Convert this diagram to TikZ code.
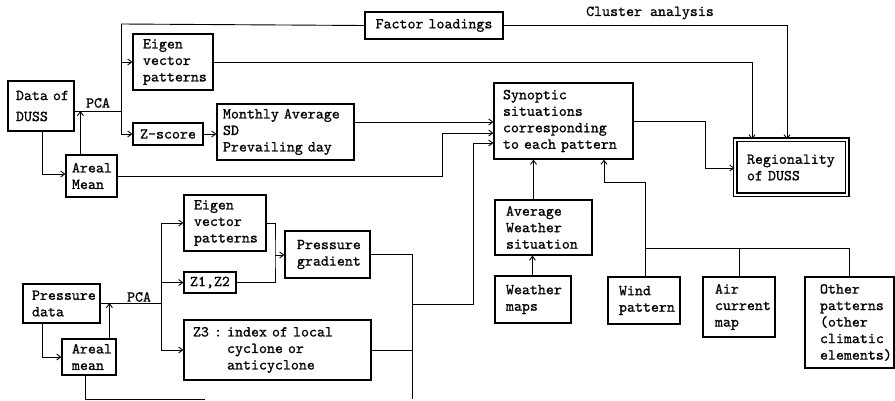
\documentclass[tikz,border=0pt]{standalone}
\usepackage{fontspec}
\newfontfamily\tfont{lmmono10-regular}[Extension=.otf,FakeBold=0.9]
\usetikzlibrary{arrows.meta}
\tikzset{
  box/.style={draw, line width=1.2pt, inner xsep=0pt, inner ysep=0pt, align=left,
    font=\tfont\fontsize{15.2}{16.5}\selectfont},
  conn/.style={line width=0.9pt},
  arr/.style={conn, -{Straight Barb[length=4pt,width=6pt]}},
  lbl/.style={font=\tfont\fontsize{15.2}{16.5}\selectfont, inner sep=0pt},
}
\newcommand\mkbox[8][]{%
  \pgfmathsetmacro\bw{#5-#3}\pgfmathsetmacro\bh{#6-#4}\pgfmathsetmacro\tw{\bw-2*(#7-#3)}%
  \node[box,minimum width=\bw pt,minimum height=\bh pt,text width=\tw pt,#1] (#2) at ({(#3+#5)/2},{(#4+#6)/2}) {#8};}
\begin{document}
\begin{tikzpicture}[x=1pt,y=-1pt]
\fill[white] (0,0) rectangle (895,401);
\useasboundingbox (0,0) rectangle (895,401);
% ---- top part
\mkbox[font=\tfont\fontsize{15.2}{21}\selectfont]{data}{8}{81}{74}{131}{16}{Data~of\\DUSS}
\mkbox{areal1}{66}{155}{117}{197}{72}{Areal\\Mean}
\mkbox{eigA}{133}{34}{213}{90}{143}{Eigen\\vector\\patterns}
\mkbox[align=center]{zscore}{133}{123}{203}{145}{140}{Z-score}
\mkbox{monthly}{217}{104}{354}{160}{223}{Monthly~Average\\SD\\Prevailing~day}
\mkbox[align=center]{factor}{365}{12}{503}{39}{374}{Factor~loadings}
\mkbox{synoptic}{494}{83}{633}{159}{503}{Synoptic\\situations\\corresponding\\to~each~pattern}
\mkbox[double, double distance=2.4pt, line width=1.3pt]{region}{735}{140}{847}{195}{747}{Regionality\\of~DUSS}
\mkbox{avg}{495}{200}{592}{255}{506}{Average\\Weather\\situation}
\mkbox{wmaps}{495}{276}{571}{323}{506}{Weather\\maps}
\mkbox{wind}{608}{277}{680}{324}{619}{Wind\\pattern}
\mkbox{air}{703}{277}{775}{337}{715}{Air\\current\\map}
\mkbox{other}{805}{277}{894}{368}{820}{Other\\patterns\\(other\\climatic\\elements)}
% ---- bottom part
\mkbox{pdata}{23}{284}{100}{323}{32}{Pressure\\data}
\mkbox{areal2}{62}{339}{116}{375}{72}{Areal\\mean}
\mkbox{eigB}{184}{195}{266}{251}{194}{Eigen\\vector\\patterns}
\mkbox[align=center]{z12}{184}{272}{236}{293}{190}{Z1,Z2}
\mkbox{z3}{184}{320}{371}{380}{193}{Z3~:~index~of~local\\\phantom{Z3~:~}cyclone~or\\\phantom{Z3~:~}anticyclone}
\mkbox{pgrad}{285}{231}{370}{278}{297}{Pressure\\gradient}
% ---- labels
\node[lbl] (pcaA) at (98,103) {PCA};
\node[lbl] (pcaB) at (139,297) {PCA};
\node[lbl] (cluster) at (650,13) {Cluster analysis};
% ---- helper coordinates
\coordinate (j1) at (121,111);
\coordinate (jtop) at (121,24);
\coordinate (m1) at (442,133);
\coordinate (m2) at (473,143);
\coordinate (pj) at (412,304);
\coordinate (m3) at (705,168);
\coordinate (m4) at (604,182);
\coordinate (bus) at (645,248);
\coordinate (p1) at (161,303);
\coordinate (q1) at (275,255);
\coordinate (q2) at (412,399);
\coordinate (q3) at (205,399);
% ---- top connectors
\draw[conn] (data.east |- j1) -- (j1);
\draw[arr] ([xshift=15pt]areal1.north west) -- ([xshift=15pt]areal1.north west |- j1);
\draw[arr] ([xshift=35pt]data.south west) |- ([yshift=2pt]areal1.west);
\draw[conn] (jtop) -- (zscore.west -| jtop);
\draw[conn] (jtop) -- (factor.west);
\draw[arr] (eigA.west -| jtop) -- (eigA.west);
\draw[arr] (zscore.west -| jtop) -- (zscore.west);
\draw[arr] (zscore.east) -- (zscore.east -| monthly.west);
\draw[arr] (factor.east) -| ([xshift=-4pt]region.north);
\draw[arr] (eigA.east) -| ([xshift=-39pt]region.north);
\draw[arr] ([yshift=10pt]monthly.east) -- ([yshift=10pt]monthly.east -| synoptic.west);
\draw[arr] (areal1.east) -| (m1) -- (m1 -| synoptic.west);
\draw[arr] (pj) -| (m2) -- (m2 -| synoptic.west);
\draw[arr] (synoptic.east) -| (m3) -- (m3 -| region.west);
\draw[arr] ([xshift=-10pt]avg.north) -- ([xshift=-10pt]avg.north |- synoptic.south);
\draw[arr] ([xshift=38pt]wmaps.north west) -- ([xshift=38pt]wmaps.north west |- avg.south);
\draw[arr] (wind.north -| bus) -- (bus |- m4) -- (m4) -- (m4 |- synoptic.south);
\draw[conn] (bus) -| (other.north);
\draw[conn] (air.north) -- (air.north |- bus);
% ---- bottom connectors
\draw[conn] (pdata.east) -- (pdata.east -| p1);
\draw[arr] ([xshift=48pt]areal2.north west) -- ([xshift=48pt]areal2.north west |- p1);
\draw[arr] ([xshift=20pt]pdata.south west) |- (areal2.west);
\draw[conn] (eigB.west -| p1) -- (z3.west -| p1);
\draw[arr] (eigB.west -| p1) -- (eigB.west);
\draw[arr] (z12.west -| p1) -- (z12.west);
\draw[arr] (z3.west -| p1) -- (z3.west);
\draw[conn] (eigB.east) -| (q1) |- (z12.east);
\draw[arr] (q1) -- (q1 -| pgrad.west);
\draw[conn] (pgrad.east) -| (q2);
\draw[conn] (z3.east) -- (z3.east -| q2);
\draw[conn] ([xshift=24pt]areal2.south west) |- (q3);
\end{tikzpicture}
\end{document}
